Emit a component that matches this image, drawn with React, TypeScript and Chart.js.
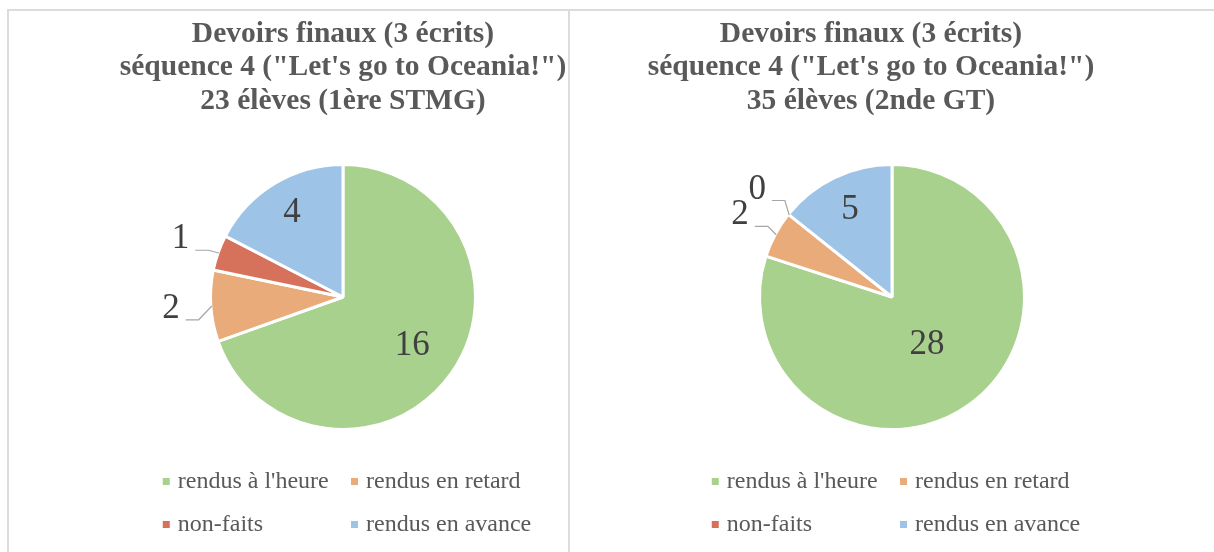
import React, { useEffect, useRef } from "react";
import { Chart, registerables } from "chart.js";

Chart.register(...registerables);

// ---- data ----
const categories = ["rendus à l'heure", "rendus en retard", "non-faits", "rendus en avance"];
const valuesSTMG = [16, 2, 1, 4];
const valuesGT = [28, 2, 0, 5];
const titleSTMG = ["Devoirs finaux (3 écrits)", "séquence 4 (\"Let's go to Oceania!\")", "23 élèves (1ère STMG)"];
const titleGT = ["Devoirs finaux (3 écrits)", "séquence 4 (\"Let's go to Oceania!\")", "35 élèves (2nde GT)"];
const sliceColors = ["#A9D18E", "#E9AB79", "#D6715B", "#9DC3E6"];

const SERIF = "'Liberation Serif', 'Times New Roman', serif";

// labels, leader lines and a two-column legend
const pieExtras = {
  id: "pieExtras",
  afterLayout(chart: any, _args: any, opts: any) {
    const s = opts.shiftX || 0;
    if (s) {
      chart.chartArea.left += s;
      chart.chartArea.right += s;
    }
  },
  afterDraw(chart: any, _args: any, opts: any) {
    const ctx = chart.ctx;
    const meta = chart.getDatasetMeta(0);
    const data: number[] = chart.data.datasets[0].data;
    const total = data.reduce((a, b) => a + b, 0);
    ctx.save();
    meta.data.forEach((arc: any, i: number) => {
      const { x, y, startAngle, endAngle, outerRadius } = arc;
      const mid = (startAngle + endAngle) / 2;
      const frac = data[i] / total;
      const text = String(data[i]);
      ctx.font = `${opts.labelSize}px ${SERIF}`;
      ctx.fillStyle = "#404040";
      ctx.textAlign = "center";
      ctx.textBaseline = "middle";
      if (frac >= opts.insideMin) {
        const r = outerRadius * (opts.insideRadius[i] ?? 0.68);
        ctx.fillText(text, x + Math.cos(mid) * r, y + Math.sin(mid) * r);
      } else {
        const r = outerRadius + opts.outsideGap;
        const lx = x + Math.cos(mid) * r;
        const ly = y + Math.sin(mid) * r;
        ctx.fillText(text, lx, ly);
        const w = ctx.measureText(text).width;
        const side = lx < x ? 1 : -1;
        const endX = lx + side * (w / 2 + 6);
        const endY = ly + 11;
        const elbowX = endX + side * 13;
        const px = x + Math.cos(mid) * (outerRadius - 1);
        const py = y + Math.sin(mid) * (outerRadius - 1);
        ctx.strokeStyle = "#A6A6A6";
        ctx.lineWidth = 1.2;
        ctx.beginPath();
        ctx.moveTo(endX, endY);
        ctx.lineTo(elbowX, endY);
        ctx.lineTo(px, py);
        ctx.stroke();
      }
    });

    // legend
    const labels: string[] = chart.data.labels;
    const colors: string[] = chart.data.datasets[0].backgroundColor;
    ctx.font = `${opts.legendSize}px ${SERIF}`;
    const box = 7;
    const gap = 8;
    let maxW = 0;
    labels.forEach((l) => {
      maxW = Math.max(maxW, box + gap + ctx.measureText(l).width);
    });
    const colW = maxW + 8;
    const ca = chart.chartArea;
    const cx = (ca.left + ca.right) / 2 + 8;
    const startX = cx - colW;
    ctx.textAlign = "left";
    ctx.textBaseline = "alphabetic";
    labels.forEach((l, i) => {
      const col = i % 2;
      const row = Math.floor(i / 2);
      const bx = startX + col * colW;
      const yc = ca.bottom + opts.legendTop + row * opts.legendRowGap;
      ctx.fillStyle = colors[i];
      ctx.fillRect(bx, yc - box / 2, box, box);
      ctx.fillStyle = "#595959";
      ctx.fillText(l, bx + box + gap, yc + 6.5);
    });
    ctx.restore();
  },
};

type PieProps = {
  values: number[];
  title: string[];
  left: number;
  width: number;
  padLeft: number;
  padRight: number;
  shiftX: number;
  insideRadius: (number | null)[];
};

function PieChart({ values, title, left, width, padLeft, padRight, shiftX, insideRadius }: PieProps) {
  const ref = useRef<HTMLCanvasElement | null>(null);
  useEffect(() => {
    if (!ref.current) return;
    const chart = new Chart(ref.current, {
      type: "pie",
      data: {
        labels: categories,
        datasets: [
          {
            data: values,
            backgroundColor: sliceColors,
            borderColor: "#FFFFFF",
            borderWidth: 3,
          },
        ],
      },
      options: {
        animation: false,
        responsive: true,
        maintainAspectRatio: false,
        events: [],
        layout: { padding: { left: padLeft, right: padRight, top: 0, bottom: 121 } },
        plugins: {
          legend: { display: false },
          tooltip: { enabled: false },
          title: {
            display: true,
            text: title,
            color: "#595959",
            font: { family: SERIF, size: 29.5, weight: "bold", lineHeight: 1.136 },
            padding: { top: 7.5, bottom: 45 },
          },
          pieExtras: {
            shiftX,
            insideMin: 0.1,
            insideRadius,
            outsideGap: 40,
            labelSize: 35,
            legendSize: 24,
            legendTop: 50.5,
            legendRowGap: 43,
          },
        } as any,
      },
      plugins: [pieExtras as any],
    });
    return () => chart.destroy();
  }, []);
  return (
    <div style={{ position: "absolute", left, top: 10, width, height: 542 }}>
      <canvas ref={ref} />
    </div>
  );
}

export default function App() {
  return (
    <div
      style={{
        position: "fixed",
        left: 0,
        top: 0,
        width: 1214,
        height: 552,
        background: "#FFFFFF",
        overflow: "hidden",
      }}
    >
      <div
        style={{
          position: "absolute",
          left: 7,
          top: 9,
          width: 563,
          height: 620,
          boxSizing: "border-box",
          borderLeft: "2px solid #DCDCDC",
          borderTop: "2px solid #DCDCDC",
          borderRight: "2px solid #DCDCDC",
        }}
      />
      <div
        style={{
          position: "absolute",
          left: 569,
          top: 9,
          width: 645,
          height: 620,
          boxSizing: "border-box",
          borderTop: "2px solid #DCDCDC",
        }}
      />
      <PieChart
        values={valuesSTMG}
        title={titleSTMG}
        left={8}
        width={560}
        padLeft={110}
        padRight={0}
        shiftX={0}
        insideRadius={[0.64, null, null, 0.74]}
      />
      <PieChart
        values={valuesGT}
        title={titleGT}
        left={569}
        width={645}
        padLeft={0}
        padRight={41}
        shiftX={21}
        insideRadius={[0.45, null, null, 0.73]}
      />
    </div>
  );
}
